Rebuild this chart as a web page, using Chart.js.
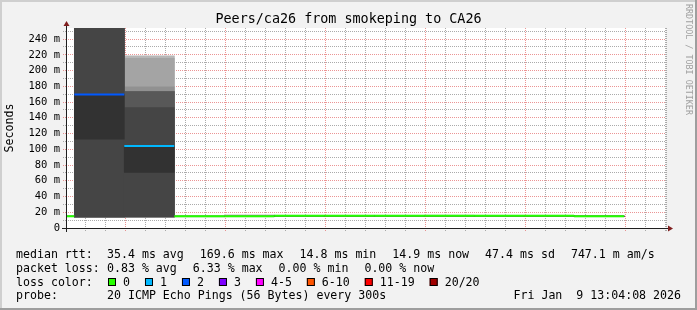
<!DOCTYPE html>
<html><head><meta charset="utf-8">
<script src="https://cdn.jsdelivr.net/npm/chart.js@4.4.1/dist/chart.umd.min.js"></script>
<style>html,body{margin:0;padding:0;background:#f2f2f2;}canvas{display:block;}</style>
</head><body>
<canvas id="c" width="697" height="310"></canvas>
<script>
// ---------------- data ----------------
const chartTitle = 'Peers/ca26 from smokeping to CA26';
const yAxisTitle = 'Seconds';
const viewStart = '12:04:10';
const viewEnd = '13:04:12';
const stepMinutes = 5; // one probe round every 300 s
const intervalEnds = ['12:05','12:10','12:15','12:20','12:25','12:30','12:35','12:40','12:45','12:50','12:55','13:00'];
const medianRtt = [14.8, 169.6, 104.0, 14.8, 14.8, 15.5, 15.5, 15.5, 15.5, 15.5, 15.5, 14.9];
const lostPings = [0, 2, 1, 0, 0, 0, 0, 0, 0, 0, 0, 0];
// sorted ping RTTs (ms) of the 20 pings of every round, null = lost
const pings = [
  [14.2,14.3,14.4,14.4,14.5,14.5,14.6,14.6,14.7,14.7,14.8,14.8,14.9,14.9,15.0,15.1,15.1,15.3,15.5,15.9],
  [13.6,13.7,13.8,13.8,13.9,13.9,14.0,14.0,14.0,112.8,169.6,262.0,271.4,283.9,296.2,309.5,326.8,348.3,null,null],
  [13.7,13.8,13.9,13.9,14.0,14.1,14.1,14.2,14.3,70.6,104.0,152.8,173.1,173.1,173.2,179.4,215.5,218.4,218.6,null],
  [14.1,14.2,14.3,14.4,14.4,14.5,14.6,14.6,14.7,14.7,14.8,14.8,14.9,14.9,15.0,15.1,15.2,15.3,15.5,15.8],
  [14.2,14.3,14.3,14.4,14.5,14.5,14.6,14.7,14.7,14.8,14.8,14.9,15.0,15.0,15.1,15.2,15.4,15.7,16.3,17.2],
  [14.9,15.0,15.0,15.1,15.2,15.2,15.3,15.3,15.4,15.4,15.5,15.5,15.6,15.6,15.7,15.8,15.8,15.9,16.1,16.4],
  [14.8,14.9,15.0,15.1,15.1,15.2,15.3,15.3,15.4,15.5,15.5,15.6,15.6,15.7,15.7,15.8,15.9,16.0,16.2,16.5],
  [14.9,15.0,15.1,15.1,15.2,15.2,15.3,15.4,15.4,15.5,15.5,15.5,15.6,15.6,15.7,15.7,15.8,16.0,16.1,16.3],
  [14.8,14.9,15.0,15.1,15.1,15.2,15.3,15.3,15.4,15.4,15.5,15.6,15.6,15.7,15.7,15.8,15.9,15.9,16.2,16.6],
  [14.9,15.0,15.0,15.1,15.2,15.2,15.3,15.4,15.4,15.5,15.5,15.6,15.6,15.6,15.7,15.8,15.8,16.0,16.1,16.4],
  [14.8,14.9,15.0,15.1,15.1,15.2,15.2,15.3,15.4,15.4,15.5,15.5,15.6,15.7,15.7,15.8,15.9,16.0,16.2,16.5],
  [14.2,14.3,14.4,14.5,14.5,14.6,14.6,14.7,14.8,14.8,14.9,14.9,15.0,15.0,15.1,15.2,15.3,15.4,15.6,15.9]
];
const xTickLabels = ['12:10','12:20','12:30','12:40','12:50','13:00'];
const yTickValues = [0, 20, 40, 60, 80, 100, 120, 140, 160, 180, 200, 220, 240];
const yTickLabels = ['0','20 m','40 m','60 m','80 m','100 m','120 m','140 m','160 m','180 m','200 m','220 m','240 m'];
const yMax = 254;
const lossColorLabels = ['0','1','2','3','4-5','6-10','11-19','20/20'];
const lossColorMaxLost = [0, 1, 2, 3, 5, 10, 19, 20];
const lossColors = ['#26ff00','#00b8ff','#0059ff','#7e00ff','#ff00ff','#ff5500','#ff0000','#a10000'];
const statsMedian = ['35.4 ms avg','169.6 ms max','14.8 ms min','14.9 ms now','47.4 ms sd','747.1 m am/s'];
const statsLoss = ['0.83 % avg','6.33 % max','0.00 % min','0.00 % now'];
const probeText = '20 ICMP Echo Pings (56 Bytes) every 300s';
const dateText = 'Fri Jan  9 13:04:08 2026';
const watermark = 'RRDTOOL / TOBI OETIKER';

// ---------------- helpers ----------------
const mono = "'DejaVu Sans Mono', monospace";
const toMin = s => { const p = s.split(':').map(Number); return p[0] * 60 + p[1] + (p[2] || 0) / 60; };
const fmt = v => { const t = Math.round(v); return Math.floor(t / 60) + ':' + String(t % 60).padStart(2, '0'); };
const isWhole = v => Math.abs(v - Math.round(v)) < 1e-6;
const lossColor = n => lossColors[lossColorMaxLost.findIndex(m => n <= m)];
const xMin = toMin(viewStart), xMax = toMin(viewEnd);
const MINOR = 'rgba(143,143,143,0.75)', MAJOR = 'rgba(222,79,79,0.6)';
// width of one probe round in pixels
const stepWidth = ctx => {
  const s = ctx.chart.scales.x;
  return Math.abs(s.getPixelForValue(xMin + stepMinutes) - s.getPixelForValue(xMin));
};

// smoke: one floating-bar dataset per ping rank pair (outer = light, inner = dark)
const datasets = [];
for (let r = 1; r <= 10; r++) {
  const g = Math.floor(190 / 10 * (10 - r)) + 50;
  const data = [];
  intervalEnds.forEach((e, i) => {
    const lo = pings[i][r - 1], hi = pings[i][20 - r];
    if (lo != null && hi != null) data.push({ x: toMin(e) - stepMinutes / 2, y: [lo, hi] });
  });
  datasets.push({
    type: 'bar', xAxisID: 'x', yAxisID: 'y', data,
    backgroundColor: `rgb(${g},${g},${g})`, borderWidth: 0,
    grouped: false, barThickness: stepWidth, barPercentage: 1, categoryPercentage: 1, order: 100 - r
  });
}
// median line, coloured by loss
const medPts = [];
intervalEnds.forEach((e, i) => {
  const t = toMin(e);
  medPts.push({ x: t - stepMinutes, y: medianRtt[i] }, { x: t, y: medianRtt[i] }, { x: t, y: null });
});
datasets.push({
  type: 'line', xAxisID: 'x', yAxisID: 'y', data: medPts, order: 0,
  borderWidth: 2, pointRadius: 0, spanGaps: false, fill: false, clip: 0, tension: 0,
  borderColor: lossColors[0],
  segment: { borderColor: c => lossColor(lostPings[Math.floor(c.p0DataIndex / 3)]) }
});

const decor = {
  id: 'decor',
  beforeDraw(chart) {
    const { ctx, width, height, chartArea: a } = chart;
    ctx.save();
    ctx.fillStyle = '#f2f2f2'; ctx.fillRect(0, 0, width, height);
    ctx.fillStyle = '#cfcfcf'; ctx.fillRect(0, 0, width, 2); ctx.fillRect(0, 0, 2, height);
    ctx.fillStyle = '#9e9e9e'; ctx.fillRect(0, height - 2, width, 2); ctx.fillRect(width - 2, 0, 2, height);
    ctx.fillStyle = '#ffffff'; ctx.fillRect(a.left, a.top, a.right - a.left, a.bottom - a.top);
    ctx.restore();
  },
  afterDraw(chart) {
    const { ctx, chartArea: a } = chart;
    ctx.save();
    // axes + arrows
    ctx.strokeStyle = 'rgb(31,31,31)'; ctx.lineWidth = 1;
    ctx.beginPath(); ctx.moveTo(a.left - 4, a.bottom + 0.5); ctx.lineTo(a.right + 4, a.bottom + 0.5); ctx.stroke();
    ctx.beginPath(); ctx.moveTo(a.left + 0.5, a.bottom + 4); ctx.lineTo(a.left + 0.5, a.top - 4); ctx.stroke();
    ctx.fillStyle = 'rgb(128,31,31)';
    ctx.beginPath(); ctx.moveTo(a.right + 2, a.bottom + 0.5 - 3); ctx.lineTo(a.right + 2, a.bottom + 0.5 + 3); ctx.lineTo(a.right + 7, a.bottom + 0.5); ctx.closePath(); ctx.fill();
    ctx.beginPath(); ctx.moveTo(a.left + 0.5 - 3, a.top - 2); ctx.lineTo(a.left + 0.5 + 3, a.top - 2); ctx.lineTo(a.left + 0.5, a.top - 7); ctx.closePath(); ctx.fill();

    // legend
    ctx.font = `11.6px ${mono}`; ctx.fillStyle = '#000'; ctx.textBaseline = 'alphabetic'; ctx.textAlign = 'left';
    const L = 16, V = 107, G = 16, rowY = [258.3, 272, 285.7, 299.3];
    const flow = (items, y) => { let x = V; items.forEach(t => { ctx.fillText(t, x, y); x += ctx.measureText(t).width + G; }); };
    ctx.fillText('median rtt:', L, rowY[0]); flow(statsMedian, rowY[0]);
    ctx.fillText('packet loss:', L, rowY[1]); flow(statsLoss, rowY[1]);
    ctx.fillText('loss color:', L, rowY[2]);
    let x = 108; const by = Math.round(rowY[2] - 7.7);
    lossColorLabels.forEach((lab, i) => {
      ctx.fillStyle = lossColors[i]; ctx.fillRect(x, by, 8, 8);
      ctx.strokeStyle = '#000'; ctx.lineWidth = 1; ctx.strokeRect(x + 0.5, by + 0.5, 7, 7);
      ctx.fillStyle = '#000'; ctx.fillText(lab, x + 15, rowY[2]);
      x += 15 + ctx.measureText(lab).width + 15;
    });
    ctx.fillText('probe:', L, rowY[3]); ctx.fillText(probeText, V, rowY[3]);
    ctx.textAlign = 'right'; ctx.fillText(dateText, 681, rowY[3]);

    // watermark
    ctx.translate(688, 4); ctx.rotate(Math.PI / 2);
    ctx.font = `8.4px ${mono}`; ctx.fillStyle = '#a0a0a0'; ctx.textAlign = 'left'; ctx.textBaseline = 'middle';
    ctx.fillText(watermark, 0, 0);
    ctx.restore();
  }
};

new Chart(document.getElementById('c'), {
  type: 'line',
  data: { datasets },
  options: {
    responsive: false, animation: false, devicePixelRatio: 1,
    layout: { padding: 0 },
    plugins: {
      legend: { display: false }, tooltip: { enabled: false },
      title: { display: true, text: chartTitle, color: '#000',
        font: { family: mono, size: 13.4, weight: 'normal', lineHeight: 1.2 },
        padding: { top: 11, bottom: 0.92 } }
    },
    scales: {
      x: {
        type: 'linear', position: 'bottom', min: xMin, max: xMax, z: 1, offset: false, bounds: 'data',
        afterFit: s => { s.height = 82; },
        ticks: { stepSize: 2, includeBounds: false, autoSkip: false, maxRotation: 0, minRotation: 0,
          padding: 1, color: '#000', font: { family: mono, size: 10.5 },
          callback: v => (isWhole(v) && xTickLabels.includes(fmt(v))) ? fmt(v) : '' },
        grid: { offset: false, drawTicks: true, tickLength: 3, lineWidth: 1, tickBorderDash: [1, 1],
          color: c => (c.tick && xTickLabels.includes(fmt(c.tick.value))) ? MAJOR : MINOR },
        border: { display: false, dash: [1, 1] }
      },
      y: {
        type: 'linear', position: 'left', min: 0, max: yMax, z: 1,
        afterFit: s => { s.width = 66; },
        ticks: { stepSize: 10, includeBounds: false, autoSkip: false, padding: 3, color: '#000',
          font: { family: mono, size: 10.5 },
          callback: v => { const i = yTickValues.indexOf(v); return i >= 0 ? yTickLabels[i] : ''; } },
        grid: { drawTicks: true, tickLength: 3, lineWidth: 1, tickBorderDash: [1, 1],
          color: c => { const v = c.tick ? c.tick.value : -1; return v === 0 ? 'rgba(0,0,0,0)' : (yTickValues.includes(v) ? MAJOR : MINOR); } },
        border: { display: false, dash: [1, 1] },
        title: { display: true, text: yAxisTitle, color: '#000',
          font: { family: mono, size: 11.6, weight: 'normal' }, padding: { top: 3.4, bottom: 0 } }
      },
      yr: {
        type: 'linear', position: 'right', display: true,
        afterFit: s => { s.width = 31; },
        grid: { display: false, drawTicks: false }, ticks: { display: false }, border: { display: false }
      }
    }
  },
  plugins: [decor]
});
</script>
</body></html>
